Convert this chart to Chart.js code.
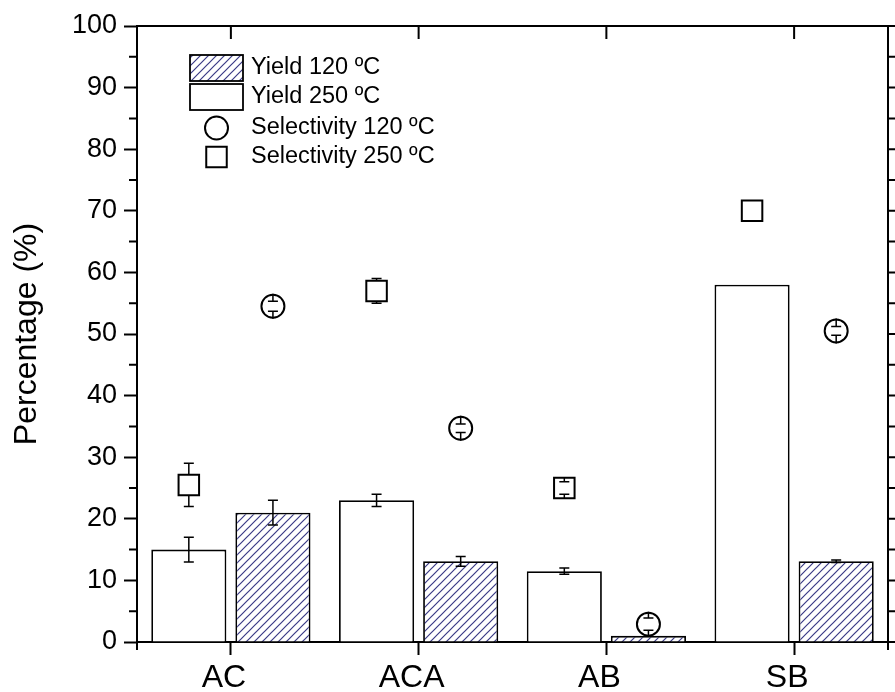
<!DOCTYPE html>
<html>
<head>
<meta charset="utf-8">
<script src="https://cdn.jsdelivr.net/npm/chart.js@4.4.0/dist/chart.umd.min.js"></script>
<style>
  html, body { margin: 0; padding: 0; background: #fff; overflow: hidden; }
  #wrap { width: 895px; height: 692px; }
</style>
</head>
<body>
<div id="wrap"><canvas id="barChart"></canvas></div>
<script>
// data
var categories = ['AC', 'ACA', 'AB', 'SB'];
var yield250 = [15, 23, 11.5, 58];
var yield250Err = [2, 1, 0.5, 0];
var yield120 = [21, 13.1, 1.0, 13.1];
var yield120Err = [2, 0.8, 0, 0.2];
var sel250 = [25.5, 57, 25, 70];
var sel250Err = [3.5, 2, 1, 0];
var sel120 = [54.5, 34.7, 2.9, 50.5];
var sel120Err = [0.8, 0.7, 1, 0.7];
var yTicks = { min: 0, max: 100, step: 10, minor: 5 };

// 250 ºC sits left of the category tick, 120 ºC right of it
var barShift = 0.224;

Chart.defaults.font.family = "'Liberation Sans', Arial, sans-serif";
Chart.defaults.color = '#000';

function makeHatch() {
  var c = document.createElement('canvas');
  c.width = 8;
  c.height = 8;
  var g = c.getContext('2d');
  g.fillStyle = '#fff';
  g.fillRect(0, 0, 8, 8);
  g.strokeStyle = '#3b3b86';
  g.lineWidth = 1.2;
  g.beginPath();
  g.moveTo(0, 8); g.lineTo(8, 0);
  g.moveTo(-2, 2); g.lineTo(2, -2);
  g.moveTo(6, 10); g.lineTo(10, 6);
  g.stroke();
  return g.createPattern(c, 'repeat');
}
var hatch = makeHatch();

function atShift(values, shift) {
  return values.map(function (v, i) { return { x: i + shift, y: v }; });
}

// error bars (for markers they start at the marker edge, like Origin)
var errorBars = {
  id: 'errorBars',
  afterDatasetsDraw: function (chart) {
    var ctx = chart.ctx;
    var y = chart.scales.y;
    ctx.save();
    ctx.strokeStyle = '#000';
    ctx.lineWidth = 1.5;
    chart.data.datasets.forEach(function (ds, di) {
      if (!ds.errors) return;
      var meta = chart.getDatasetMeta(di);
      meta.data.forEach(function (el, i) {
        var e = ds.errors[i];
        if (!e) return;
        var v = ds.data[i].y;
        var top = y.getPixelForValue(v + e);
        var bot = y.getPixelForValue(v - e);
        var cy = y.getPixelForValue(v);
        var half = ds.markerHalf || 0;
        ctx.beginPath();
        if (half) {
          ctx.moveTo(el.x, cy - half); ctx.lineTo(el.x, top);
          ctx.moveTo(el.x, cy + half); ctx.lineTo(el.x, bot);
        } else {
          ctx.moveTo(el.x, top); ctx.lineTo(el.x, bot);
        }
        ctx.moveTo(el.x - 5, top); ctx.lineTo(el.x + 5, top);
        ctx.moveTo(el.x - 5, bot); ctx.lineTo(el.x + 5, bot);
        ctx.stroke();
      });
    });
    ctx.restore();
  }
};

// top / right frame and minor ticks
var frame = {
  id: 'frame',
  afterDraw: function (chart) {
    var ctx = chart.ctx;
    var a = chart.chartArea;
    var y = chart.scales.y;
    var x = chart.scales.x;
    ctx.save();
    ctx.strokeStyle = '#000';
    ctx.lineWidth = 2;
    ctx.beginPath();
    ctx.moveTo(a.left, a.top); ctx.lineTo(a.right, a.top); ctx.lineTo(a.right, a.bottom);
    for (var v = yTicks.min; v <= yTicks.max; v += yTicks.minor) {
      var py = y.getPixelForValue(v);
      if (v % yTicks.step) {
        ctx.moveTo(a.left - 8, py); ctx.lineTo(a.left, py);
      }
      ctx.moveTo(a.right, py); ctx.lineTo(a.right + 8, py);
    }
    categories.forEach(function (c, i) {
      var px = x.getPixelForTick(i);
      ctx.moveTo(px, a.top); ctx.lineTo(px, a.top + 13);
    });
    ctx.moveTo(a.left, a.bottom); ctx.lineTo(a.left, a.bottom + 8);
    ctx.moveTo(a.right, a.bottom); ctx.lineTo(a.right, a.bottom + 8);
    ctx.stroke();
    ctx.restore();
  }
};

// legend inside the plot, top left
var insideLegend = {
  id: 'insideLegend',
  afterDraw: function (chart) {
    var ctx = chart.ctx;
    var a = chart.chartArea;
    var ds = chart.data.datasets;
    var bx = a.left + 53;
    var tx = a.left + 114;
    var rows = [
      { d: ds[3], cy: a.top + 42 },
      { d: ds[2], cy: a.top + 71 },
      { d: ds[0], cy: a.top + 102 },
      { d: ds[1], cy: a.top + 131 }
    ];
    ctx.save();
    ctx.strokeStyle = '#000';
    rows.forEach(function (r) {
      var d = r.d;
      if (d.type === 'scatter') {
        ctx.lineWidth = 2;
        ctx.fillStyle = '#fff';
        ctx.beginPath();
        if (d.pointStyle === 'circle') {
          ctx.arc(bx + 26.5, r.cy, d.pointRadius, 0, Math.PI * 2);
        } else {
          var s = d.pointRadius * Math.SQRT1_2;
          ctx.rect(bx + 26.5 - s, r.cy - s, 2 * s, 2 * s);
        }
        ctx.fill();
        ctx.stroke();
      } else {
        ctx.lineWidth = 1.8;
        ctx.fillStyle = d.backgroundColor;
        ctx.fillRect(bx, r.cy - 13, 53, 26);
        ctx.strokeRect(bx, r.cy - 13, 53, 26);
      }
      ctx.fillStyle = '#000';
      ctx.font = "23.5px 'Liberation Sans', Arial, sans-serif";
      ctx.textBaseline = 'middle';
      ctx.textAlign = 'left';
      ctx.fillText(d.label, tx, r.cy);
    });
    ctx.restore();
  }
};

var ctxBar = document.getElementById('barChart').getContext('2d');

var chartBar = new Chart(ctxBar, {
  type: 'bar',
  data: {
    labels: categories,
    datasets: [
      {
        type: 'scatter',
        label: 'Selectivity 120 ºC',
        xAxisID: 'xs',
        data: atShift(sel120, barShift),
        pointStyle: 'circle',
        pointRadius: 11.5,
        pointBorderWidth: 2,
        pointBorderColor: '#000',
        pointBackgroundColor: '#fff',
        errors: sel120Err,
        markerHalf: 12.5,
        order: 0
      },
      {
        type: 'scatter',
        label: 'Selectivity 250 ºC',
        xAxisID: 'xs',
        data: atShift(sel250, -barShift),
        pointStyle: 'rect',
        pointRadius: 14.5,
        pointBorderWidth: 2,
        pointBorderColor: '#000',
        pointBackgroundColor: '#fff',
        errors: sel250Err,
        markerHalf: 10.5,
        order: 0
      },
      {
        type: 'bar',
        label: 'Yield 250 ºC',
        xAxisID: 'xs',
        data: atShift(yield250, -barShift),
        backgroundColor: '#fff',
        borderColor: '#000',
        borderWidth: 1.8,
        grouped: false,
        categoryPercentage: 1,
        barPercentage: 0.893,
        errors: yield250Err,
        order: 1
      },
      {
        type: 'bar',
        label: 'Yield 120 ºC',
        xAxisID: 'xs',
        data: atShift(yield120, barShift),
        backgroundColor: hatch,
        borderColor: '#000',
        borderWidth: 1.8,
        grouped: false,
        categoryPercentage: 1,
        barPercentage: 0.893,
        errors: yield120Err,
        order: 1
      }
    ]
  },
  options: {
    responsive: true,
    maintainAspectRatio: false,
    animation: false,
    layout: { autoPadding: false, padding: { top: 26, right: 7, left: 0, bottom: 0 } },
    plugins: {
      legend: { display: false },
      tooltip: { enabled: false }
    },
    scales: {
      x: {
        type: 'category',
        offset: true,
        grid: { offset: false, drawOnChartArea: false, tickLength: 13, tickWidth: 2, color: '#000' },
        border: { color: '#000', width: 2 },
        ticks: { font: { size: 32 }, padding: 4, labelOffset: -7, maxRotation: 0, autoSkip: false },
        afterFit: function (scale) { scale.height = 50; }
      },
      xs: {
        type: 'linear',
        display: false,
        offset: false,
        min: -0.5,
        max: categories.length - 0.5
      },
      y: {
        min: yTicks.min,
        max: yTicks.max,
        ticks: { stepSize: yTicks.step, font: { size: 27 }, padding: 7 },
        grid: { drawOnChartArea: false, tickLength: 13, tickWidth: 2, color: '#000' },
        border: { color: '#000', width: 2 },
        title: { display: true, text: 'Percentage (%)', font: { size: 32 }, padding: { top: 8, bottom: 0 } },
        afterFit: function (scale) { scale.width = 137; }
      }
    }
  },
  plugins: [errorBars, frame, insideLegend]
});
</script>
</body>
</html>
